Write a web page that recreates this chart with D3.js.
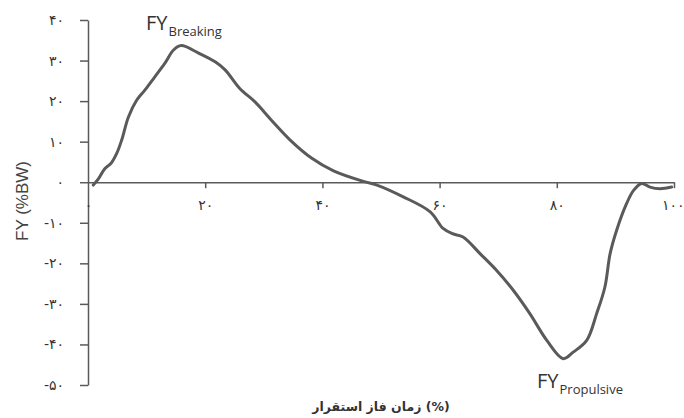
<!DOCTYPE html>
<html>
<head>
<meta charset="utf-8">
<script src="https://cdn.jsdelivr.net/npm/d3@7"></script>
<style>
  body { margin: 0; background: #fff; }
  svg { display: block; }
</style>
</head>
<body>
<div id="chart"></div>
<script>
const width = 684
const height = 418

// stance phase time (%) and vertical force FY (%BW)
const phase = [0.9, 1.8, 2.9, 3.9, 4.9, 5.75, 6.9, 8.3, 9.7, 11.4, 13.1, 14.6, 15.9, 18.8, 21.7, 23.4, 25.9, 28.5, 31.3, 34.5, 38.2, 41.9, 47, 49.3, 53.8, 58.4, 60.6, 62.2, 64.0, 66.9, 69.7, 72.6, 75.4, 78.3, 81.1, 82.8, 85.1, 86.8, 88.2, 89.1, 90.2, 91.9, 93.1, 94.5, 95.9, 97.6, 99.6]
const fy = [-0.7, 0.9, 3.4, 4.6, 7.1, 10.4, 16.1, 20.2, 22.7, 26, 29.3, 32.6, 33.7, 31.9, 29.7, 27.7, 23.1, 19.8, 15.3, 10.4, 5.9, 2.8, 0.2, -0.7, -3.6, -7.3, -11.4, -12.7, -13.5, -17.6, -21.7, -26.7, -32.4, -39, -43.5, -41.9, -39, -32.4, -25.9, -17.6, -11.9, -5.3, -2.0, -0.3, -1.2, -1.6, -1.2]

const xTicks = [0, 20, 40, 60, 80, 100]
const yTicks = [40, 30, 20, 10, 0, -10, -20, -30, -40, -50]

const xTitle = "زمان فاز استقرار (%)"
const yTitle = "FY (%BW)"

const data = phase.map((d, i) => ({ x: d, y: fy[i] }))

const persian = "۰۱۲۳۴۵۶۷۸۹"
const toPersian = (v) =>
  String(v).replace(/\d/g, (c) => persian[+c])

const svg = d3
  .select("#chart")
  .append("svg")
  .attr("width", width)
  .attr("height", height)

const xScale = d3.scaleLinear().domain([0, 100]).range([88, 674])
const yScale = d3.scaleLinear().domain([-50, 40]).range([385, 20])

const axisColor = "#5a5a5a"

// Y AXIS
const yAxis = svg
  .append("g")
  .attr("transform", `translate(${xScale(0)},0)`)
  .call(
    d3
      .axisLeft(yScale)
      .tickValues(yTicks)
      .tickFormat(toPersian)
      .tickSizeInner(8)
      .tickSizeOuter(0)
      .tickPadding(16)
  )
yAxis.select(".domain").attr("stroke", axisColor).attr("stroke-width", 1.5)
yAxis.selectAll(".tick line").attr("stroke", axisColor).attr("stroke-width", 1.5)
yAxis
  .selectAll(".tick text")
  .attr("fill", "#333")
  .style("font-family", "DejaVu Sans")
  .style("font-size", "14px")

// X AXIS (at zero)
const xAxis = svg
  .append("g")
  .attr("transform", `translate(0,${yScale(0)})`)
  .call(
    d3
      .axisBottom(xScale)
      .tickValues(xTicks)
      .tickFormat(toPersian)
      .tickSizeInner(6)
      .tickSizeOuter(0)
      .tickPadding(12)
  )
xAxis.select(".domain").attr("stroke", axisColor).attr("stroke-width", 1.5)
xAxis.selectAll(".tick line").attr("stroke", axisColor).attr("stroke-width", 1.5)
xAxis.selectAll(".tick").filter((d) => d === 0).select("line").remove()
xAxis
  .selectAll(".tick text")
  .attr("fill", "#333")
  .style("font-family", "DejaVu Sans")
  .style("font-size", "14px")
// last label sits against the right edge
xAxis
  .selectAll(".tick")
  .filter((d) => d === 100)
  .select("text")
  .attr("text-anchor", "end")
  .attr("x", 10)

// CURVE
const line = d3
  .line()
  .curve(d3.curveCatmullRom.alpha(0.5))
  .x((d) => xScale(d.x))
  .y((d) => yScale(d.y))

svg
  .append("path")
  .datum(data)
  .attr("d", line)
  .attr("fill", "none")
  .attr("stroke", "#5a5a5a")
  .attr("stroke-width", 3)
  .attr("stroke-linejoin", "round")
  .attr("stroke-linecap", "round")

// TITLES
svg
  .append("text")
  .attr("transform", "translate(28,201) rotate(-90)")
  .attr("text-anchor", "middle")
  .attr("fill", "#444")
  .style("font-family", "Liberation Sans")
  .style("font-size", "17px")
  .text(yTitle)

svg
  .append("text")
  .attr("x", 381)
  .attr("y", 411)
  .attr("text-anchor", "middle")
  .attr("fill", "#333")
  .style("font-family", "DejaVu Sans")
  .style("font-size", "12.5px")
  .style("font-weight", "bold")
  .text(xTitle)

// ANNOTATIONS
const labels = [
  { main: "FY", sub: "Breaking", x: 146, y: 30 },
  { main: "FY", sub: "Propulsive", x: 537, y: 388 },
]

labels.forEach((l) => {
  const t = svg
    .append("text")
    .attr("x", l.x)
    .attr("y", l.y)
    .attr("fill", "#333")
    .style("font-family", "Open Sans")
  t.append("tspan").style("font-size", "20px").text(l.main)
  t.append("tspan")
    .attr("dy", 6)
    .attr("dx", 1)
    .style("font-size", "13px")
    .text(l.sub)
})
</script>
</body>
</html>
